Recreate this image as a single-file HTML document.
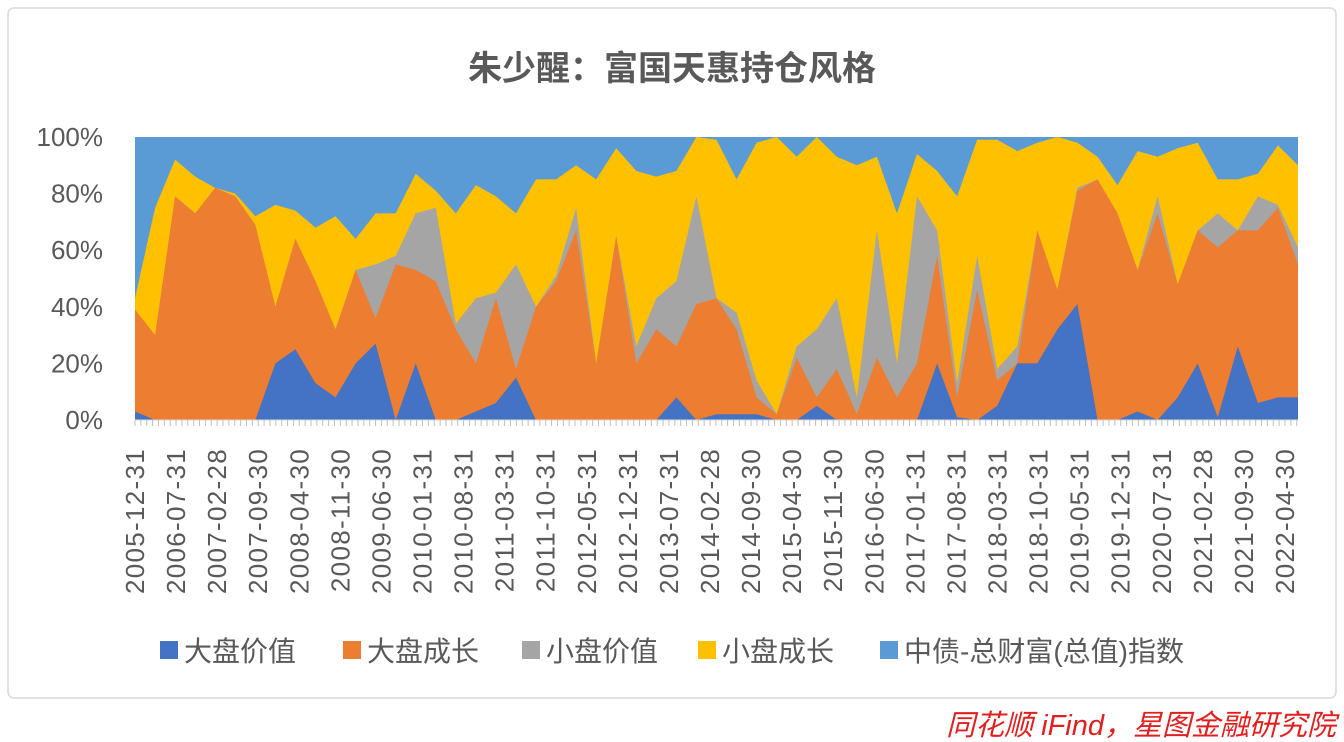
<!DOCTYPE html>
<html><head><meta charset="utf-8"><style>
body{margin:0;background:#fff;}
svg{display:block;font-family:"Liberation Sans","Noto Sans CJK SC",sans-serif;}
</style></head><body>
<svg id="chart" width="1344" height="742">
<rect x="8" y="8" width="1328" height="690" rx="6" fill="#fff" stroke="#d9d9d9" stroke-width="1.5"/>
<text x="672" y="80" text-anchor="middle" font-size="34" font-weight="bold" fill="#595959">朱少醒：富国天惠持仓风格</text>
<g id="plot"></g>
<g id="legend" font-size="28" fill="#595959"></g>
<text x="1336" y="735" text-anchor="end" font-size="29" font-style="italic" fill="#e02020">同花顺 iFind，星图金融研究院</text>
</svg>
<script>
const xLabels=["2005-12-31","2006-07-31","2007-02-28","2007-09-30","2008-04-30","2008-11-30","2009-06-30","2010-01-31","2010-08-31","2011-03-31","2011-10-31","2012-05-31","2012-12-31","2013-07-31","2014-02-28","2014-09-30","2015-04-30","2015-11-30","2016-06-30","2017-01-31","2017-08-31","2018-03-31","2018-10-31","2019-05-31","2019-12-31","2020-07-31","2021-02-28","2021-09-30","2022-04-30"];
const largeValue=[3,0,0,0,0,0,0,20,25,13,8,20,27,0,20,0,0,3,6,15,0,0,0,0,0,0,0,8,0,2,2,2,0,0,5,0,0,0,0,0,20,1,0,5,20,20,32,41,0,0,3,0,8,20,1,26,6,8,8];
const largeGrowth=[36,30,79,73,82,79,69,20,39,36,24,33,9,55,33,49,32,17,37,3,40,49,67,20,65,20,32,18,41,41,30,6,2,22,3,18,2,22,8,20,38,7,46,9,0,47,14,40,85,73,50,73,40,47,60,41,61,67,47];
const smallValue=[0,0,0,0,0,0,0,0,0,0,0,0,19,3,20,26,2,23,2,37,0,2,8,0,0,6,11,23,38,0,6,6,0,4,24,25,6,45,12,59,9,5,12,4,6,0,0,1,0,0,0,6,0,0,12,0,12,1,6];
const smallGrowth=[4,45,13,13,0,1,3,36,10,19,40,11,18,15,14,6,39,40,34,18,45,34,15,65,31,62,43,39,21,56,47,84,98,67,68,50,82,26,53,15,21,66,41,81,69,31,54,16,8,10,42,14,48,31,12,18,8,21,29];
const seriesNames=["大盘价值","大盘成长","小盘价值","小盘成长","中债-总财富(总值)指数"];
const colors=["#4472c4","#ed7d31","#a5a5a5","#ffc000","#5b9bd5"];
const yTicks=[0,20,40,60,80,100];
const NS="http://www.w3.org/2000/svg";
const L=135,R=1298,T=137,B=420;
const n=largeValue.length;
const xAt=i=>L+(R-L)*i/(n-1);
const yAt=v=>B-(B-T)*v/100;
const plot=document.getElementById('plot');
function mk(tag,attrs,parent){const e=document.createElementNS(NS,tag);for(const k in attrs)e.setAttribute(k,attrs[k]);parent.appendChild(e);return e;}
const bg=mk('rect',{x:L,y:yAt(100),width:R-L,height:yAt(0)-yAt(100),fill:colors[4]},plot);


const series=[largeValue,largeGrowth,smallValue,smallGrowth];
const names=['area-large-value','area-large-growth','area-small-value','area-small-growth'];
const cums=[];
let acc=new Array(n).fill(0);
series.forEach(sv=>{acc=acc.map((a,i)=>Math.min(100,a+sv[i]));cums.push(acc.slice());});
for(let s=3;s>=0;s--){
  let d='M'+xAt(0)+','+yAt(0);
  for(let i=0;i<n;i++)d+=' L'+xAt(i).toFixed(1)+','+yAt(cums[s][i]).toFixed(1);
  d+=' L'+xAt(n-1)+','+yAt(0)+' Z';
  const p=mk('path',{d:d,fill:colors[s]},plot);
  
  
}
yTicks.forEach(v=>{
  const t=mk('text',{x:103,y:yAt(v)+9,'text-anchor':'end','font-size':26,fill:'#595959'},plot);
  t.textContent=v+'%';
  
  
});
mk('line',{x1:L,y1:B,x2:R,y2:B,stroke:'#d9d9d9','stroke-width':1},plot);
const step=(1285-L)/(xLabels.length-1);
const nt=Math.floor((R-L)/(step/7));
for(let k=0;k<=nt;k++){const x=L+k*step/7;mk('line',{x1:x,y1:B,x2:x,y2:B+6,stroke:'#bfbfbf','stroke-width':1},plot);}
xLabels.forEach((lab,i)=>{
  const x=L+i*step;
  const t=mk('text',{transform:`translate(${(x+9).toFixed(1)},448) rotate(-90)`,'text-anchor':'end','font-size':26,'letter-spacing':1.3,fill:'#595959'},plot);
  t.textContent=lab;
  
  
});
const legend=document.getElementById('legend');
const lx=[160,343,522,698,880];
seriesNames.forEach((nm,i)=>{
  const g=mk('g',{},legend);
  
  
  mk('rect',{x:lx[i],y:641,width:18,height:18,fill:colors[i]},g);
  const t=mk('text',{x:lx[i]+24,y:661},g);
  t.textContent=nm;
});
</script>
</body></html>
